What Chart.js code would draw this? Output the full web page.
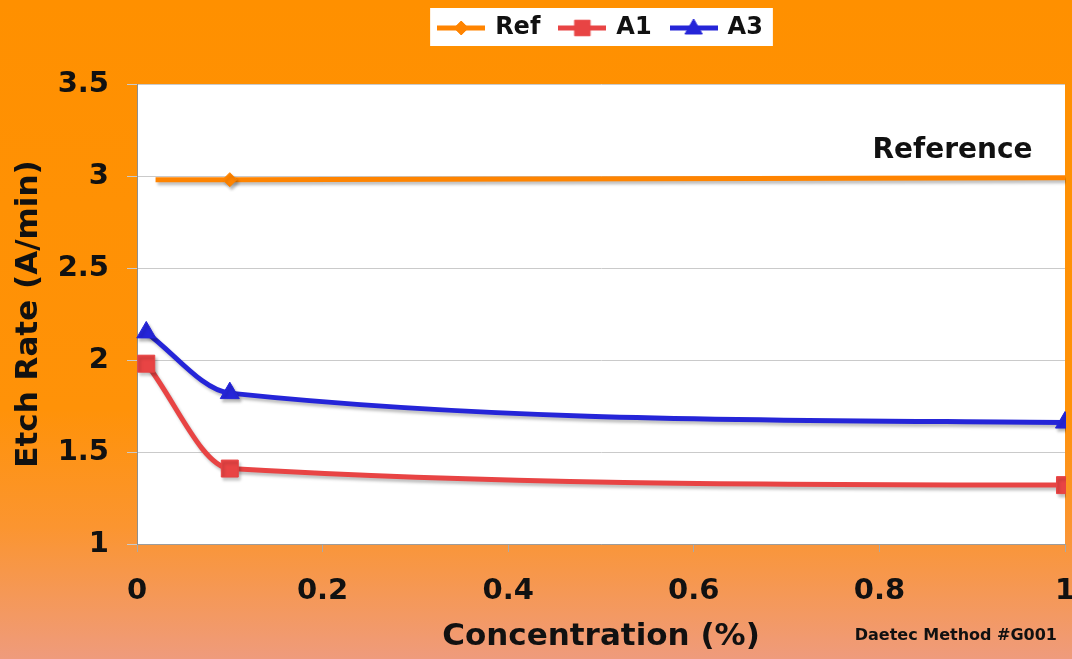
<!DOCTYPE html>
<html>
<head>
<meta charset="utf-8">
<script src="https://cdn.jsdelivr.net/npm/chart.js@4.4.1/dist/chart.umd.min.js"></script>
<style>
  html, body { margin: 0; padding: 0; background: #ff9100; overflow: hidden; }
  canvas { display: block; }
</style>
</head>
<body>
<canvas id="chart" width="1072" height="659"></canvas>
<script>
// ---- data ----
const seriesNames = ['Ref', 'A1', 'A3'];
const refX = [0.02, 0.1, 1];
const refY = [2.98, 2.98, 2.99];
const a1X = [0.01, 0.1, 1];
const a1Y = [1.98, 1.41, 1.32];
const a3X = [0.01, 0.1, 1];
const a3Y = [2.15, 1.82, 1.66];

const xTickValues = [0, 0.2, 0.4, 0.6, 0.8, 1];
const xTickLabels = ['0', '0.2', '0.4', '0.6', '0.8', '1'];
const yTickValues = [1, 1.5, 2, 2.5, 3, 3.5];
const yTickLabels = ['1', '1.5', '2', '2.5', '3', '3.5'];

const xTitle = 'Concentration (%)';
const yTitle = 'Etch Rate (A/min)';
const refLabelText = 'Reference';
const refLabelAt = { x: 0.965, y: 3.14 };   // right edge / middle of the label, in data units
const footnoteText = 'Daetec Method #G001';

// ---- styling ----
const FONT = '"DejaVu Sans", Verdana, sans-serif';
const INK = '#111111';
const COLORS = { Ref: '#ff8400', A1: '#e84444', A3: '#2525d8' };
const STYLES = { Ref: 'rectRot', A1: 'rect', A3: 'triangle' };
const LEGEND_SHIFT = 65;

const pts = (xs, ys) => xs.map((x, i) => ({ x, y: ys[i] }));

// small line-plus-marker swatches for the legend
function legendSwatch(color, style, radius) {
  const c = document.createElement('canvas');
  c.width = 48; c.height = 24;
  const g = c.getContext('2d');
  g.strokeStyle = color; g.fillStyle = color; g.lineWidth = 5;
  g.beginPath(); g.moveTo(0, 12); g.lineTo(48, 12); g.stroke();
  g.lineWidth = 1;
  Chart.helpers.drawPoint(g, { pointStyle: style, radius: radius, borderWidth: 1, rotation: 0 }, 24, style === 'triangle' ? 13 : 12);
  return c;
}
const swatches = [
  legendSwatch(COLORS.Ref, STYLES.Ref, 7),
  legendSwatch(COLORS.A1, STYLES.A1, 11),
  legendSwatch(COLORS.A3, STYLES.A3, 10)
];

// background, white plot area, white legend panel, annotations
const backdrop = {
  id: 'backdrop',
  afterLayout(chart) {
    const lg = chart.legend;
    const h = lg.bottom - lg.top;
    lg.top = -4; lg.bottom = h - 4;
    lg.left += LEGEND_SHIFT; lg.right += LEGEND_SHIFT;
  },
  beforeDraw(chart) {
    const { ctx, width, height, chartArea: a } = chart;
    ctx.save();
    const grad = ctx.createLinearGradient(0, 0, 0, height);
    grad.addColorStop(0, '#ff9000');
    grad.addColorStop(0.62, '#ff9208');
    grad.addColorStop(0.8, '#fb9530');
    grad.addColorStop(1, '#ef9b7c');
    ctx.fillStyle = grad;
    ctx.fillRect(0, 0, width, height);
    ctx.fillStyle = '#ffffff';
    ctx.fillRect(a.left, a.top, a.right - a.left, a.bottom - a.top);
    const hb = chart.legend.legendHitBoxes;
    if (hb && hb.length) {
      const first = hb[0], last = hb[hb.length - 1];
      const x0 = first.left - 9, x1 = last.left + last.width + 10;
      const y0 = first.top - 8, y1 = first.top + first.height + 6;
      ctx.fillRect(x0, y0, x1 - x0, y1 - y0);
    }
    ctx.restore();
  },
  beforeDatasetsDraw(chart) {
    const ctx = chart.ctx;
    ctx.save();
    ctx.shadowColor = 'rgba(0,0,0,0.25)';
    ctx.shadowOffsetX = 2;
    ctx.shadowOffsetY = 3;
    ctx.shadowBlur = 3;
  },
  afterDatasetsDraw(chart) {
    chart.ctx.restore();
  },
  afterDraw(chart) {
    const { ctx, width, height } = chart;
    const xs = chart.scales.x, ys = chart.scales.y;
    ctx.save();
    ctx.fillStyle = INK;
    ctx.textBaseline = 'middle';
    ctx.textAlign = 'right';
    ctx.font = 'bold 28px ' + FONT;
    ctx.fillText(refLabelText, xs.getPixelForValue(refLabelAt.x), ys.getPixelForValue(refLabelAt.y));
    ctx.font = 'bold 16px ' + FONT;
    ctx.fillText(footnoteText, width - 15, height - 23);
    ctx.restore();
  }
};

const tickFont = { family: FONT, size: 29, weight: 'bold' };
const titleFont = { family: FONT, size: 31, weight: 'bold' };
const clipBox = { left: 20, top: 20, right: 1, bottom: 20 };

new Chart(document.getElementById('chart'), {
  type: 'line',
  data: {
    datasets: [
      {
        label: seriesNames[0],
        data: pts(refX, refY),
        borderColor: COLORS.Ref,
        backgroundColor: COLORS.Ref,
        borderWidth: 5,
        tension: 0,
        pointStyle: STYLES.Ref,
        pointRadius: (c) => (c.dataIndex === 1 ? 7 : 0),
        pointBorderWidth: 1,
        clip: clipBox
      },
      {
        label: seriesNames[1],
        data: pts(a1X, a1Y),
        borderColor: COLORS.A1,
        backgroundColor: COLORS.A1,
        borderWidth: 5,
        cubicInterpolationMode: 'monotone',
        pointStyle: STYLES.A1,
        pointRadius: 12,
        pointBorderWidth: 1,
        clip: clipBox
      },
      {
        label: seriesNames[2],
        data: pts(a3X, a3Y),
        borderColor: COLORS.A3,
        backgroundColor: COLORS.A3,
        borderWidth: 5,
        cubicInterpolationMode: 'monotone',
        pointStyle: STYLES.A3,
        pointRadius: 11,
        pointBorderWidth: 1,
        clip: clipBox
      }
    ]
  },
  options: {
    responsive: false,
    animation: false,
    layout: { padding: 0, autoPadding: false },
    plugins: {
      tooltip: { enabled: false },
      legend: {
        position: 'top',
        labels: {
          usePointStyle: true,
          pointStyleWidth: 44,
          padding: 20,
          color: INK,
          font: { family: FONT, size: 24, weight: 'bold' },
          generateLabels: (chart) => chart.data.datasets.map((ds, i) => ({
            text: ds.label,
            pointStyle: swatches[i],
            datasetIndex: i,
            hidden: false,
            lineWidth: 0,
            fillStyle: ds.borderColor,
            strokeStyle: ds.borderColor,
            fontColor: INK
          }))
        }
      }
    },
    scales: {
      x: {
        type: 'linear',
        min: 0,
        max: 1,
        afterBuildTicks: (s) => { s.ticks = xTickValues.map((v) => ({ value: v })); },
        afterFit: (s) => { s.height = 115; s.paddingRight = 7; s.paddingLeft = 0; },
        ticks: {
          font: tickFont,
          color: INK,
          padding: 22,
          maxRotation: 0,
          autoSkip: false,
          callback: (v, i) => xTickLabels[i]
        },
        grid: { drawOnChartArea: false, drawTicks: true, tickLength: 8, color: '#a9a9a9' },
        border: { color: '#9c9c9c', width: 1 },
        title: { display: true, text: xTitle, font: titleFont, color: INK, padding: { top: 0, bottom: 3 } }
      },
      y: {
        type: 'linear',
        min: 1,
        max: 3.5,
        afterBuildTicks: (s) => { s.ticks = yTickValues.map((v) => ({ value: v })); },
        afterFit: (s) => { s.width = 137; s.paddingTop = 84; },
        ticks: {
          font: tickFont,
          color: INK,
          padding: 18,
          callback: (v, i) => yTickLabels[i]
        },
        grid: { color: '#cacaca', drawTicks: true, tickLength: 10 },
        border: { color: '#8e8e8e', width: 1 },
        title: { display: true, text: yTitle, font: titleFont, color: INK, padding: { top: 10, bottom: 0 } }
      }
    }
  },
  plugins: [backdrop]
});
</script>
</body>
</html>
